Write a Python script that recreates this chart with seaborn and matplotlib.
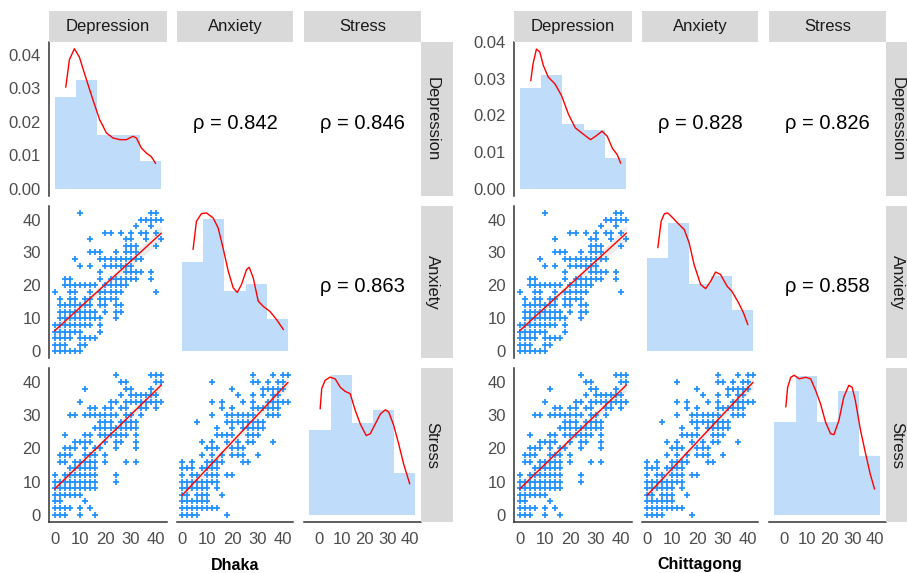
import numpy as np
import pandas as pd
import matplotlib
matplotlib.use("Agg")
import matplotlib.pyplot as plt
import seaborn as sns

sns.set_style("white")
plt.rcParams["font.family"] = ["Liberation Sans", "DejaVu Sans"]

W, H = 907, 573

variables = ["Depression", "Anxiety", "Stress"]
cities = ["Dhaka", "Chittagong"]

# histogram bins shared by every diagonal panel
bin_edges = [-4.5, 4.9, 14.3, 23.7, 33.1, 42.5]

# diagonal histograms (density)
dhaka_dep_hist = [0.0275, 0.0325, 0.0161, 0.0161, 0.0083]
dhaka_anx_hist = [0.0234, 0.0348, 0.0160, 0.0177, 0.0085]
dhaka_str_hist = [0.0185, 0.0303, 0.0200, 0.0228, 0.0090]
ctg_dep_hist = [0.0273, 0.0310, 0.0177, 0.0159, 0.0083]
ctg_anx_hist = [0.0231, 0.0317, 0.0167, 0.0187, 0.0103]
ctg_str_hist = [0.0184, 0.0275, 0.0184, 0.0245, 0.0117]

# density curves
dhaka_dep_kx = [0.4, 2.0, 4.2, 6.4, 9.4, 12.3, 15.3, 18.3, 21.2, 24.2, 27.1, 30.0, 31.5, 33.7, 35.9, 38.1, 40.0]
dhaka_dep_ky = [0.0303, 0.0385, 0.0418, 0.0393, 0.0328, 0.0267, 0.0207, 0.0167, 0.0152, 0.0147, 0.0147, 0.0157,
                0.0152, 0.0122, 0.0107, 0.0096, 0.0076]
dhaka_anx_kx = [0.4, 1.9, 4.1, 6.3, 9.3, 11.5, 13.7, 16.0, 18.2, 20.0, 21.9, 24.1, 25.3, 27.1, 29.3, 31.6, 34.5,
                37.5, 40.5]
dhaka_anx_ky = [0.0268, 0.0342, 0.0362, 0.0364, 0.0351, 0.0325, 0.0272, 0.0211, 0.0167, 0.0155, 0.0176, 0.0215,
                0.0221, 0.0193, 0.0132, 0.0118, 0.0105, 0.0083, 0.0057]
dhaka_str_kx = [0.3, 1.0, 2.5, 4.7, 7.0, 9.2, 11.4, 13.6, 15.9, 18.1, 20.7, 22.5, 24.7, 27.0, 29.2, 30.7, 32.9,
                35.1, 37.3, 40.0]
dhaka_str_ky = [0.0230, 0.0274, 0.0292, 0.0299, 0.0295, 0.0277, 0.0268, 0.0263, 0.0226, 0.0197, 0.0172, 0.0176,
                0.0197, 0.0219, 0.0228, 0.0223, 0.0194, 0.0154, 0.0110, 0.0067]
ctg_dep_kx = [0.4, 1.4, 2.9, 4.4, 5.9, 8.1, 11.1, 14.0, 17.0, 20.0, 22.9, 26.7, 28.9, 31.8, 34.1, 36.3, 38.5, 40.0]
ctg_dep_ky = [0.0294, 0.0340, 0.0380, 0.0372, 0.0336, 0.0304, 0.0285, 0.0253, 0.0203, 0.0166, 0.0152, 0.0134,
              0.0143, 0.0157, 0.0143, 0.0111, 0.0093, 0.0070]
ctg_anx_kx = [0.3, 1.8, 3.2, 4.7, 6.9, 9.1, 12.0, 14.2, 16.4, 19.3, 21.5, 23.7, 25.9, 28.1, 31.0, 33.2, 36.1,
              38.3, 40.2]
ctg_anx_ky = [0.0256, 0.0322, 0.0340, 0.0342, 0.0330, 0.0317, 0.0301, 0.0268, 0.0214, 0.0165, 0.0155, 0.0173,
              0.0196, 0.0190, 0.0161, 0.0148, 0.0120, 0.0095, 0.0066]
ctg_str_kx = [0.6, 1.4, 2.8, 4.3, 6.5, 9.4, 11.6, 13.8, 16.0, 18.2, 20.4, 21.9, 24.1, 26.3, 28.5, 30.0, 31.4,
              33.6, 35.8, 38.0, 39.9]
ctg_str_ky = [0.0214, 0.0253, 0.0273, 0.0277, 0.0270, 0.0273, 0.0270, 0.0247, 0.0220, 0.0184, 0.0161, 0.0159,
              0.0187, 0.0234, 0.0257, 0.0253, 0.0227, 0.0170, 0.0124, 0.0081, 0.0051]

# correlations (upper panels): dep-anx, dep-str, anx-str
dhaka_rho = ["0.842", "0.846", "0.863"]
ctg_rho = ["0.828", "0.826", "0.858"]

# scatter points as (y, [x values]) rows, same cloud in both cities
dep_anx_rows = [
    (0, [0, 2, 4, 6, 8, 10]), (2, [0, 2, 4, 10, 12]), (4, [0, 2, 4, 6, 10, 12, 14, 16]),
    (6, [0, 2, 4, 6, 8, 10, 18]), (8, [0, 2, 4, 6, 8, 10, 12, 14, 18]),
    (10, [2, 4, 6, 8, 10, 12, 14, 16, 18, 24]), (12, [2, 4, 6, 8, 10, 12, 14, 16, 20, 24, 26]),
    (14, [2, 4, 6, 8, 10, 12, 14, 18, 20, 24, 26]), (16, [2, 6, 8, 12, 14, 18, 20, 22, 24]),
    (18, [0, 6, 8, 14, 18, 20, 22, 24, 26, 40]), (20, [4, 6, 8, 10, 12, 14, 16, 20, 22, 24, 26, 28]),
    (22, [4, 6, 18, 22, 24, 26, 28, 30, 32, 38]), (24, [18, 28, 30, 32, 34, 38]),
    (26, [10, 14, 20, 22, 24, 26, 28, 30]), (28, [8, 18, 20, 22, 24, 26, 28, 30, 32, 34]),
    (30, [14, 16, 18, 24, 28, 30, 32]), (32, [28, 30, 32, 40]), (34, [14, 28, 30, 36, 42]),
    (36, [20, 22, 26, 30, 34, 36, 40]), (38, [32, 38]), (40, [34, 36, 38, 40, 42]), (42, [10, 38, 40]),
]
dep_str_rows = [
    (0, [0, 2, 4, 10, 16]), (2, [0, 2, 4, 6, 10, 14]), (4, [0, 2, 12]), (6, [0, 2, 4, 6, 8, 10]),
    (8, [0, 2, 4, 6, 8, 10, 12, 14, 16]), (10, [0, 2, 4, 6, 8, 10, 12, 14, 16, 24]),
    (12, [0, 4, 6, 8, 10, 12, 14, 16, 24]), (14, [6, 8, 10, 12, 14, 16]),
    (16, [2, 4, 8, 10, 12, 14, 16, 20, 28, 32]), (18, [2, 4, 6, 12, 14, 16, 20]),
    (20, [4, 6, 8, 12, 16, 18, 24, 32]), (22, [8, 10, 12, 14, 20, 24, 26, 32]),
    (24, [4, 12, 14, 18, 20, 22, 24, 26, 28, 32]), (26, [16, 18, 20, 22, 24, 26, 28, 30, 32]),
    (28, [18, 20, 22, 26, 28, 30, 32]), (30, [6, 8, 12, 14, 16, 18, 20, 22, 24, 28, 30, 34]),
    (32, [14, 16, 20, 22, 26, 28, 34, 36, 40]), (34, [10, 22, 24, 28, 30, 32, 34, 36, 38, 40, 42]),
    (36, [26, 30, 32, 34, 36, 38, 40]), (38, [12, 28, 30, 38]), (40, [26, 28, 40, 42]), (42, [24, 38, 40, 42]),
]
anx_str_rows = [
    (0, [0, 2, 4, 6, 18]), (2, [0, 2, 4, 6, 8, 10, 12, 14]), (4, [0, 2, 4, 6, 8, 10]),
    (6, [0, 2, 6, 8, 10, 16]), (8, [0, 2, 4, 6, 8, 10, 14]), (10, [0, 2, 4, 6, 8, 10, 12, 14]),
    (12, [0, 4, 6, 10, 12, 14, 18, 20]), (14, [0, 2, 4, 8, 10, 12, 14]),
    (16, [0, 4, 10, 12, 14, 16, 24, 26]), (18, [8, 12, 16, 20, 22, 24, 30]), (20, [10, 12, 14, 20, 22, 24]),
    (22, [8, 12, 18, 22, 26, 28, 36]), (24, [14, 16, 18, 20, 26, 28, 30]), (26, [14, 20, 24, 26, 28, 30, 32]),
    (28, [6, 18, 20, 22, 24, 26, 28, 30, 32]), (30, [12, 18, 20, 22, 24, 26, 28, 34, 36, 38]),
    (32, [16, 20, 28, 30, 32, 34, 36, 38]), (34, [12, 16, 24, 28, 34, 36, 38, 40, 42]),
    (36, [22, 28, 32, 36, 38]), (38, [20, 32, 34, 36, 38, 40]), (40, [12, 28, 30, 34, 38, 40]),
    (42, [28, 36, 40, 42]),
]

hist_color = "#BFDCFA"
point_color = "#1E90FF"
strip_color = "#D9D9D9"
axis_color = "#333333"
tick_color = "#4D4D4D"


def rect(x0, y0, x1, y1):
    return [x0 / W, 1 - y1 / H, (x1 - x0) / W, (y1 - y0) / H]


def style(ax, left=False, bottom=False):
    for s in ax.spines.values():
        s.set_visible(False)
    ax.set_xlabel("")
    ax.set_ylabel("")
    ax.tick_params(length=4, width=0.9, color=axis_color, labelcolor=tick_color, labelsize=12)
    ax.tick_params(axis="y", pad=2)
    ax.tick_params(axis="x", pad=3.5)
    if left:
        ax.spines["left"].set_visible(True)
        ax.spines["left"].set_color(axis_color)
        ax.spines["left"].set_linewidth(1.1)
    else:
        ax.set_yticks([])
    if bottom:
        ax.spines["bottom"].set_visible(True)
        ax.spines["bottom"].set_color(axis_color)
        ax.spines["bottom"].set_linewidth(1.1)
    else:
        ax.set_xticks([])


def draw_diag(ax, heights, kx, ky):
    centers = [(a + b) / 2 for a, b in zip(bin_edges[:-1], bin_edges[1:])]
    sns.histplot(x=centers, weights=heights, bins=bin_edges, color=hist_color, alpha=1,
                 linewidth=0, ax=ax)
    sns.lineplot(x=kx, y=ky, color="red", linewidth=1, ax=ax)
    top = max(max(heights), max(ky))
    ax.set_ylim(-0.05 * top, 1.05 * top)
    ax.set_xlim(-6.85, 44.85)


def draw_scatter(ax, rows):
    df = pd.DataFrame([(x, y) for y, xs in rows for x in xs], columns=["x", "y"])
    sns.regplot(data=df, x="x", y="y", scatter=False, ci=95, seed=1, color="grey",
                line_kws={"alpha": 0}, ax=ax)
    sns.regplot(data=df, x="x", y="y", ci=None, marker="+", color=point_color,
                scatter_kws={"s": 15, "linewidths": 1.25, "alpha": 1},
                line_kws={"color": "red", "linewidth": 1}, ax=ax)
    ax.set_xlim(-2.1, 44.1)
    ax.set_ylim(-2.1, 44.1)


def strip(fig, box, label, vertical=False):
    sax = fig.add_axes(box)
    sax.set_facecolor(strip_color)
    sax.set_xticks([])
    sax.set_yticks([])
    for s in sax.spines.values():
        s.set_visible(False)
    if vertical:
        sax.text(11.5 / 32, 0.5, label, rotation=-90, ha="center", va="center",
                 fontsize=12, color="#1A1A1A", transform=sax.transAxes)
    else:
        sax.text(0.5, 0.5, label, ha="center", va="center", fontsize=12,
                 color="#1A1A1A", transform=sax.transAxes)


def draw_city(fig, x_off, hists, kdes, rhos, name):
    cols = [(49.3, 166.7), (176.7, 293.3), (304, 420.7)]
    rows = [(41.7, 196), (206, 358.3), (368.3, 521.7)]
    scatters = {(1, 0): dep_anx_rows, (2, 0): dep_str_rows, (2, 1): anx_str_rows}
    rho_pos = {(0, 1): rhos[0], (0, 2): rhos[1], (1, 2): rhos[2]}
    for i, (y0, y1) in enumerate(rows):
        for j, (x0, x1) in enumerate(cols):
            ax = fig.add_axes(rect(x0 + x_off, y0, x1 + x_off, y1))
            ax.set_facecolor("white")
            if i == j:
                draw_diag(ax, hists[i], *kdes[i])
            elif i > j:
                draw_scatter(ax, scatters[(i, j)])
            else:
                ax.text(0.5, 0.47, "\u03c1 = " + rho_pos[(i, j)], transform=ax.transAxes,
                        ha="center", va="center", fontsize=14.5, color="black")
            style(ax, left=(j == 0), bottom=(i == 2))
            if j == 0 and i == 0:
                ax.set_yticks([0, 0.01, 0.02, 0.03, 0.04])
                ax.set_yticklabels(["0.00", "0.01", "0.02", "0.03", "0.04"])
            elif j == 0:
                ax.set_yticks([0, 10, 20, 30, 40])
            if i == 2:
                ax.set_xticks([0, 10, 20, 30, 40])
        strip(fig, rect(420.7 + x_off, y0, 452.7 + x_off, y1), variables[i], vertical=True)
    for j, (x0, x1) in enumerate(cols):
        strip(fig, rect(x0 + x_off, 11, x1 + x_off, 41.7), variables[j])
    fig.text((235 + x_off) / W, 1 - 565 / H, name, ha="center", va="center",
             fontsize=11.5, fontweight="bold", color="black")


fig = plt.figure(figsize=(W / 100, H / 100), dpi=100)
fig.patch.set_facecolor("white")

draw_city(fig, 0, [dhaka_dep_hist, dhaka_anx_hist, dhaka_str_hist],
          [(dhaka_dep_kx, dhaka_dep_ky), (dhaka_anx_kx, dhaka_anx_ky), (dhaka_str_kx, dhaka_str_ky)],
          dhaka_rho, cities[0])
draw_city(fig, 465, [ctg_dep_hist, ctg_anx_hist, ctg_str_hist],
          [(ctg_dep_kx, ctg_dep_ky), (ctg_anx_kx, ctg_anx_ky), (ctg_str_kx, ctg_str_ky)],
          ctg_rho, cities[1])

fig.savefig("out.png", dpi=100, facecolor="white")
